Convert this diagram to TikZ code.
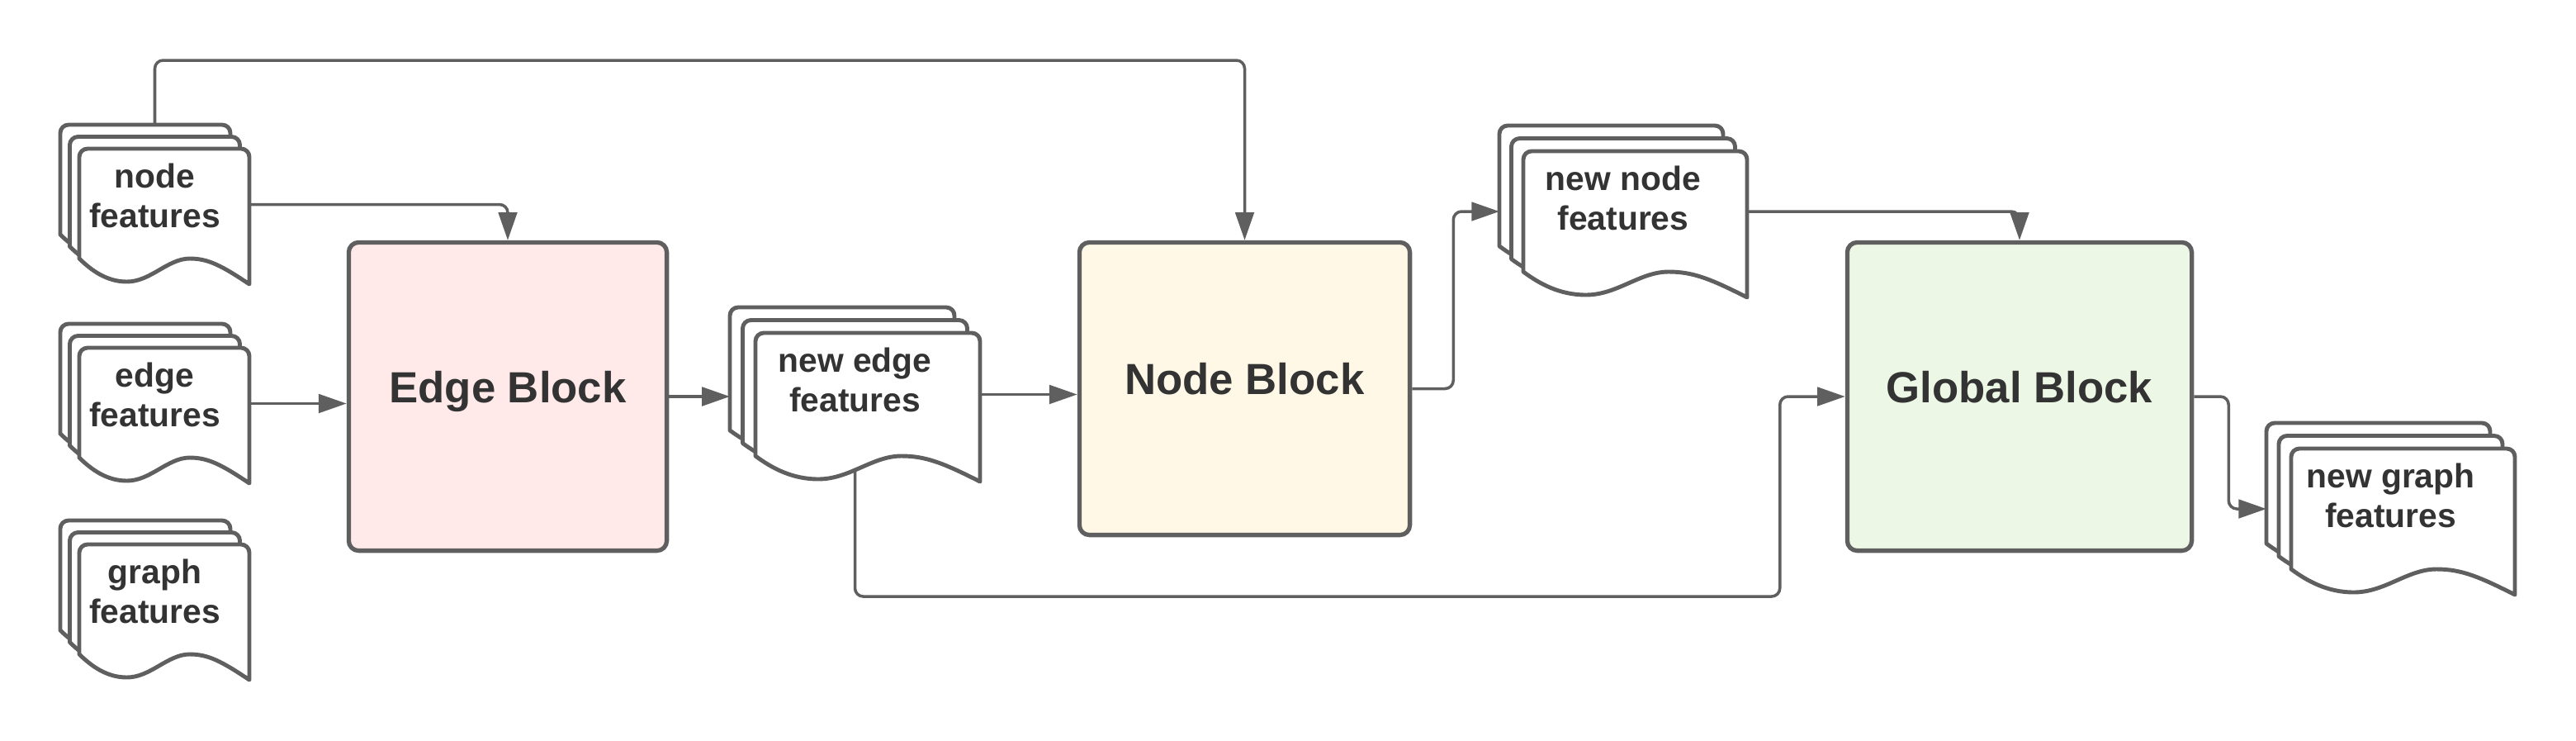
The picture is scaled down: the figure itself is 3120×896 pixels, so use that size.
\documentclass[tikz,border=0pt]{standalone}
\usepackage{fontspec}
\setmainfont{Liberation Sans}
\usetikzlibrary{positioning,arrows.meta,calc,backgrounds}

\definecolor{linegray}{HTML}{5F5F5F}
\definecolor{textgray}{HTML}{333333}
\definecolor{edgefill}{HTML}{FFEAE9}
\definecolor{nodefill}{HTML}{FFF8E6}
\definecolor{globalfill}{HTML}{ECF7E6}

% stack of three sheets: name, x, y, width, height, x offset, y offset, label
\newcommand{\docstack}[8]{%
  \pgfmathsetlengthmacro\docdrop{(#5-2*#7-114)*0.01cm}
  \foreach \k in {2,1,0}{
    \begin{scope}[shift={(#2-\k*#6,#3-\k*#7)}]
      \draw[sheet] (0,#5-31) -- (0,10) arc[start angle=180,end angle=270,radius=10]
        -- (#4-10,0) arc[start angle=270,end angle=360,radius=10]
        -- (#4,#5) .. controls (0.84*#4,#5-22) and (0.76*#4,#5-31) .. (0.65*#4,#5-31)
        .. controls (0.52*#4,#5-31) and (0.42*#4,#5-3) .. (0.28*#4,#5-3)
        .. controls (0.16*#4,#5-3) and (0.07*#4,#5-17) .. (0,#5-31) -- cycle;
    \end{scope}
  }
  \node[doclabel, minimum width={(#4+2*#6)*0.01cm}, minimum height={(#5+2*#7)*0.01cm}]
    (#1) at (#2+#4/2-#6, #3+#5/2-#7) {#8\rule[-\docdrop]{0pt}{0pt}};
}

\begin{document}
\begin{tikzpicture}[x=0.01cm, y=-0.01cm,
    sheet/.style={draw=linegray, fill=white, line width=1.4pt, line join=round},
    doclabel/.style={rectangle, align=center, inner sep=0pt, outer sep=0pt, text=textgray, font=\bfseries\fontsize{11.6}{13.6}\selectfont},
    block/.style={rectangle, draw=linegray, line width=1.5pt, rounded corners=0.12cm, text=textgray, font=\bfseries\fontsize{15}{18}\selectfont, text height=0.72em, text depth=0.3em},
    flow/.style={draw=linegray, line width=1pt, rounded corners=0.1cm, -{Triangle[length=9.6pt,width=6.4pt]}}
]
    \useasboundingbox (0,0) rectangle (3120,896);

    % Input features
    \docstack{nf}{96}{180}{206}{164}{11.5}{14.5}{node\\features}
    \docstack{ef}{96}{421}{206}{164}{11.5}{14.5}{edge\\features}
    \docstack{gf}{96}{659}{206}{164}{11.5}{14.5}{graph\\features}

    % Blocks
    \node[block, fill=edgefill, minimum width=3.85cm, minimum height=3.73cm] (eb) at (615,480) {Edge Block};
    \node[block, fill=nodefill, minimum width=4.0cm, minimum height=3.54cm] (nb) at (1507.5,470.5) {Node Block};
    \node[block, fill=globalfill, minimum width=4.17cm, minimum height=3.73cm] (gb) at (2446,480) {Global Block};

    % Updated features
    \docstack{nef}{915}{403}{272}{180}{15.5}{15.5}{new edge\\features}
    \docstack{nnf}{1845}{183}{271}{177}{14.5}{15.5}{new node\\features}
    \docstack{ngf}{2775}{543}{271}{177}{15}{15.5}{new graph\\features}

    % Connections
    \begin{scope}[on background layer]
    \draw[flow] (nf.north) -- ++(0,-78) -| (nb.north);
    \draw[flow] (nf.east) -| (eb.north);
    \draw[flow] (ef.east) -- (ef.east -| eb.west);
    \draw[flow] (eb.east) -- (eb.east -| nef.west);
    \draw[flow] (nef.east) -- (nef.east -| nb.west);
    \draw[flow] (nef.center) |- ($(gb.west)+(-79,242)$) |- (gb.west);
    \draw[flow] (nb.east) -- ++(50,0) |- (nnf.west);
    \draw[flow] (nnf.east) -| (gb.north);
    \draw[flow] (gb.east) -- ++(42,0) |- (ngf.west);
    \end{scope}
\end{tikzpicture}
\end{document}
